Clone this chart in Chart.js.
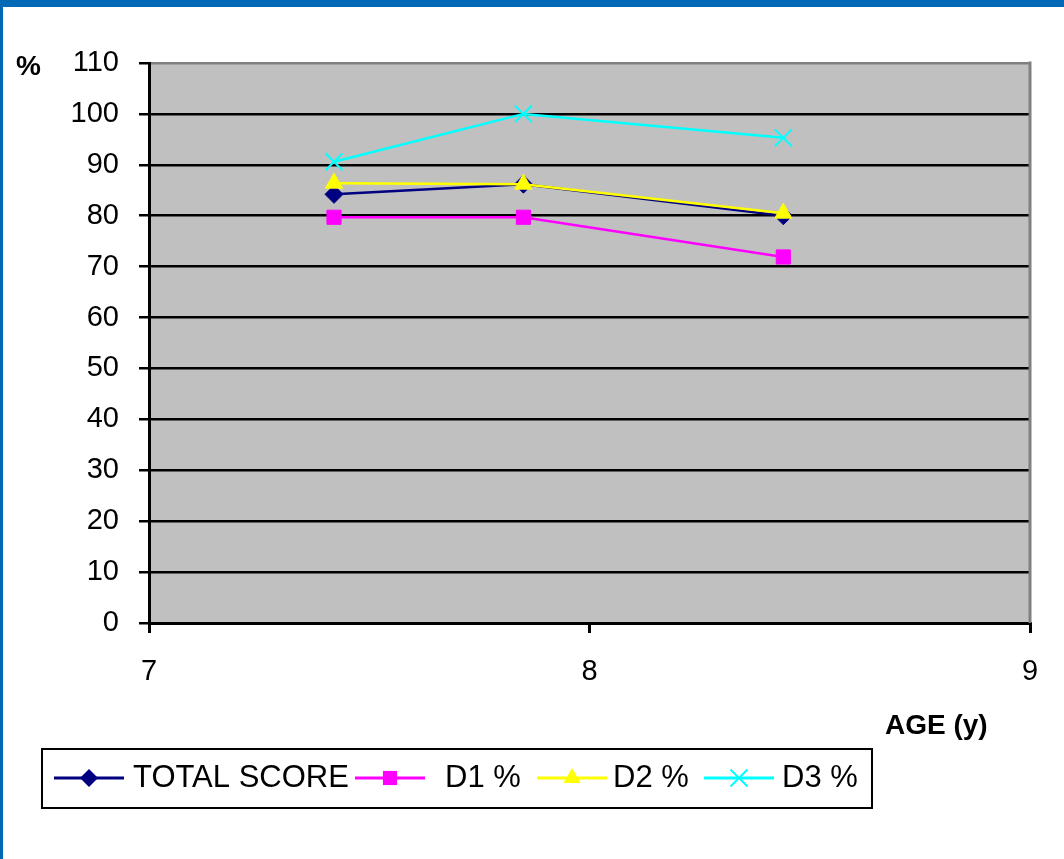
<!DOCTYPE html>
<html>
<head>
<meta charset="utf-8">
<script src="https://cdn.jsdelivr.net/npm/chart.js@4.4.1/dist/chart.umd.min.js"></script>
<style>
  html, body { margin: 0; padding: 0; background: #fff; }
  canvas { display: block; }
</style>
</head>
<body>
<canvas id="ageChart" width="1064" height="859"></canvas>
<script>
// values
const ages = [7.42, 7.85, 8.44];
const totalScore = [84.2, 86.2, 80.0];
const d1 = [79.7, 79.7, 71.9];
const d2 = [86.4, 86.2, 80.5];
const d3 = [90.6, 100, 95.3];
const seriesNames = ['TOTAL SCORE', 'D1 %', 'D2 %', 'D3 %'];
const yMin = 0, yMax = 110, yStep = 10;
const xMin = 7, xMax = 9, xStep = 1;

const FONT = '"Liberation Sans", Arial, sans-serif';

function pts(ys) {
    return ys.map((y, i) => ({ x: ages[i], y: y }));
}

// small marker painter for the hand drawn legend
function drawMarker(ctx, style, x, y, r, color) {
    ctx.save();
    ctx.fillStyle = color;
    ctx.strokeStyle = color;
    ctx.lineWidth = 2;
    ctx.beginPath();
    if (style === 'rectRot') {
        ctx.moveTo(x, y - r); ctx.lineTo(x + r, y); ctx.lineTo(x, y + r); ctx.lineTo(x - r, y);
        ctx.closePath(); ctx.fill();
    } else if (style === 'rect') {
        const s = Math.SQRT1_2 * r;
        ctx.rect(x - s, y - s, 2 * s, 2 * s); ctx.fill();
    } else if (style === 'triangle') {
        ctx.moveTo(x, y - r);
        ctx.lineTo(x + r * Math.sin(2 * Math.PI / 3), y + r * 0.5);
        ctx.lineTo(x - r * Math.sin(2 * Math.PI / 3), y + r * 0.5);
        ctx.closePath(); ctx.fill();
    } else if (style === 'crossRot') {
        const o = Math.SQRT1_2 * r;
        ctx.moveTo(x - o, y - o); ctx.lineTo(x + o, y + o);
        ctx.moveTo(x - o, y + o); ctx.lineTo(x + o, y - o);
        ctx.stroke();
    }
    ctx.restore();
}

const framePlugin = {
    id: 'frame',
    beforeDraw(chart) {
        const { ctx, chartArea: a } = chart;
        ctx.save();
        ctx.fillStyle = '#ffffff';
        ctx.fillRect(0, 0, chart.width, chart.height);
        // blue slide frame
        ctx.fillStyle = '#0068b4';
        ctx.fillRect(0, 0, chart.width, 7);
        ctx.fillRect(0, 0, 3, chart.height);
        // grey plot area
        ctx.fillStyle = '#c0c0c0';
        ctx.fillRect(a.left, a.top, a.right - a.left, a.bottom - a.top);
        ctx.restore();
    },
    beforeDatasetsDraw(chart) {
        const { ctx, chartArea: a } = chart;
        ctx.save();
        ctx.strokeStyle = '#808080';
        ctx.lineWidth = 3;
        ctx.beginPath();
        ctx.moveTo(a.right, a.top - 1.5);
        ctx.lineTo(a.right, a.bottom);
        ctx.stroke();
        ctx.restore();
    },
    afterDraw(chart) {
        const ctx = chart.ctx;
        ctx.save();
        // axis titles
        ctx.fillStyle = '#000';
        ctx.font = 'bold 28px ' + FONT;
        ctx.textBaseline = 'middle';
        ctx.textAlign = 'left';
        ctx.fillText('%', 16, 67);
        ctx.fillText('AGE (y)', 885, 726);

        // legend box
        const box = { left: 42, top: 749, width: 830, height: 59 };
        ctx.strokeStyle = '#000';
        ctx.lineWidth = 2;
        ctx.strokeRect(box.left, box.top, box.width, box.height);

        const lineStart = [54, 355, 537, 704];
        const textStart = [133, 445, 613, 782];
        const markerSize = [9, 10, 10, 12];
        const cy = 778;
        ctx.font = '31px ' + FONT;
        chart.data.datasets.forEach((ds, i) => {
            const x0 = lineStart[i];
            ctx.strokeStyle = ds.borderColor;
            ctx.lineWidth = 3;
            ctx.beginPath();
            ctx.moveTo(x0, cy);
            ctx.lineTo(x0 + 70, cy);
            ctx.stroke();
            drawMarker(ctx, ds.pointStyle, x0 + 35, cy, markerSize[i], ds.borderColor);
            ctx.fillStyle = '#000';
            ctx.fillText(ds.label, textStart[i], cy);
        });
        ctx.restore();
    }
};

const ctx = document.getElementById('ageChart').getContext('2d');

const ageChart = new Chart(ctx, {
    type: 'line',
    data: {
        datasets: [
            {
                label: seriesNames[0],
                data: pts(totalScore),
                borderColor: '#000080',
                backgroundColor: '#000080',
                pointStyle: 'rectRot',
                pointRadius: 9,
                order: 4
            },
            {
                label: seriesNames[1],
                data: pts(d1),
                borderColor: '#ff00ff',
                backgroundColor: '#ff00ff',
                pointStyle: 'rect',
                pointRadius: 10,
                order: 3
            },
            {
                label: seriesNames[2],
                data: pts(d2),
                borderColor: '#ffff00',
                backgroundColor: '#ffff00',
                pointStyle: 'triangle',
                pointRadius: 10,
                order: 2
            },
            {
                label: seriesNames[3],
                data: pts(d3),
                borderColor: '#00ffff',
                backgroundColor: '#00ffff',
                pointStyle: 'crossRot',
                pointRadius: 12,
                pointBorderWidth: 2,
                order: 1
            }
        ]
    },
    options: {
        responsive: false,
        animation: false,
        events: [],
        layout: {
            padding: { left: 0, top: 63, right: 34, bottom: 166 }
        },
        elements: {
            line: { borderWidth: 2.5, tension: 0 },
            point: { borderWidth: 1 }
        },
        scales: {
            x: {
                type: 'linear',
                min: xMin,
                max: xMax,
                afterFit: s => { s.height = 70; },
                ticks: {
                    stepSize: xStep,
                    color: '#000',
                    padding: 22,
                    font: { family: FONT, size: 29 }
                },
                grid: {
                    drawOnChartArea: false,
                    tickLength: 10,
                    color: '#000',
                    lineWidth: 3
                },
                border: { display: true, color: '#000', width: 3 }
            },
            y: {
                min: yMin,
                max: yMax,
                afterFit: s => { s.width = 149; },
                ticks: {
                    stepSize: yStep,
                    color: '#000',
                    padding: 20,
                    font: { family: FONT, size: 29 }
                },
                grid: {
                    tickLength: 10,
                    lineWidth: 2.5,
                    color: c => (c.tick && c.tick.value === yMax ? '#808080' : '#000'),
                    tickColor: '#000'
                },
                border: { display: true, color: '#000', width: 3 }
            }
        },
        plugins: {
            legend: { display: false },
            tooltip: { enabled: false }
        }
    },
    plugins: [framePlugin]
});
</script>
</body>
</html>
